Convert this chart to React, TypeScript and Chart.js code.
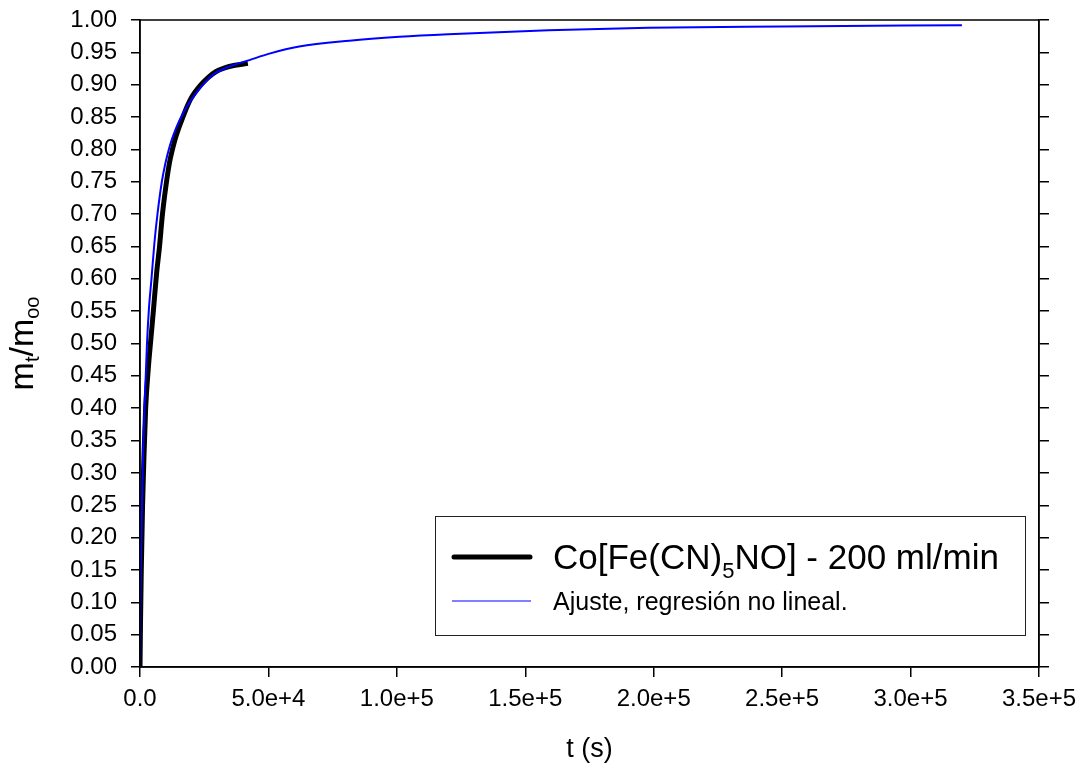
import React, { useEffect, useRef } from "react";
import { Chart, registerables } from "chart.js";

Chart.register(...registerables);

const FONT = "'Liberation Sans', Arial, Helvetica, sans-serif";

// Measured uptake curve, Co[Fe(CN)5NO] at 200 ml/min
const tMeasured = [0, 200, 500, 1000, 1500, 2200, 3200, 4300, 5300, 6500, 7600, 8750, 10500, 11500, 12500, 13600, 15000, 16700, 18300, 20000, 23500, 26500, 29500, 33000, 37000, 42000];
const yMeasured = [0, 0.07, 0.15, 0.25, 0.32, 0.4, 0.46, 0.51, 0.555, 0.61, 0.65, 0.7, 0.755, 0.78, 0.798, 0.815, 0.832, 0.85, 0.866, 0.88, 0.899, 0.911, 0.92, 0.926, 0.93, 0.933];

// Non-linear regression fit
const tFit = [0, 150, 400, 800, 1200, 1750, 2720, 3500, 4470, 5600, 6800, 8500, 9700, 10700, 11800, 13000, 15400, 18500, 21900, 25000, 28300, 34800, 42600, 50400, 62000, 81500, 101000, 120000, 159000, 198000, 250000, 320000];
const yFit = [0, 0.09, 0.17, 0.26, 0.33, 0.4, 0.5, 0.555, 0.6, 0.655, 0.7, 0.75, 0.775, 0.792, 0.808, 0.822, 0.845, 0.868, 0.887, 0.902, 0.915, 0.928, 0.938, 0.948, 0.959, 0.968, 0.974, 0.978, 0.984, 0.988, 0.99, 0.992];

const X_MIN = 0;
const X_MAX = 350000;
const X_STEP = 50000;
const Y_MIN = 0;
const Y_MAX = 1;
const Y_STEP = 0.05;

const legendMeasured = ["Co[Fe(CN)", "5", "NO] - 200 ml/min"];
const legendFit = "Ajuste, regresión no lineal.";
const yTitleParts: [string, boolean][] = [["m", false], ["t", true], ["/m", false], ["oo", true]];
const xTitle = "t (s)";

const fmtX = (v: number) => {
  if (v === 0) return "0.0";
  const e = Math.floor(Math.log10(v) + 1e-9);
  const m = v / Math.pow(10, e);
  return m.toFixed(1) + "e+" + e;
};

const decorPlugin = {
  id: "decor",
  afterDraw(chart: any) {
    const { ctx, chartArea } = chart;
    const { left, top, right, bottom } = chartArea;
    ctx.save();
    // plot frame
    ctx.strokeStyle = "#000";
    ctx.lineWidth = 1.5;
    ctx.strokeRect(left, top, right - left, bottom - top);

    // y-axis title with subscripts
    const mainF = `34px ${FONT}`;
    const subF = `20px ${FONT}`;
    let total = 0;
    for (const [t, sub] of yTitleParts) {
      ctx.font = sub ? subF : mainF;
      total += ctx.measureText(t).width;
    }
    ctx.save();
    ctx.translate(32.5, (top + bottom) / 2);
    ctx.rotate(-Math.PI / 2);
    ctx.fillStyle = "#000";
    ctx.textBaseline = "alphabetic";
    ctx.textAlign = "left";
    let x = -total / 2;
    for (const [t, sub] of yTitleParts) {
      ctx.font = sub ? subF : mainF;
      ctx.fillText(t, x, sub ? 6 : 0);
      x += ctx.measureText(t).width;
    }
    ctx.restore();

    // legend
    const bx = 435, by = 516, bw = 590, bh = 119;
    ctx.fillStyle = "#fff";
    ctx.fillRect(bx, by, bw, bh);
    ctx.strokeStyle = "#222";
    ctx.lineWidth = 1;
    ctx.strokeRect(bx + 0.5, by + 0.5, bw, bh);

    ctx.strokeStyle = "#000";
    ctx.lineWidth = 5;
    ctx.lineCap = "round";
    ctx.beginPath();
    ctx.moveTo(454, 557);
    ctx.lineTo(530, 557);
    ctx.stroke();

    ctx.strokeStyle = "#0000ff";
    ctx.lineWidth = 1.2;
    ctx.lineCap = "butt";
    ctx.beginPath();
    ctx.moveTo(452, 601);
    ctx.lineTo(531, 601);
    ctx.stroke();

    ctx.fillStyle = "#000";
    ctx.textAlign = "left";
    ctx.textBaseline = "alphabetic";
    let lx = 553;
    ctx.font = `35px ${FONT}`;
    ctx.fillText(legendMeasured[0], lx, 569);
    lx += ctx.measureText(legendMeasured[0]).width;
    ctx.font = `22px ${FONT}`;
    ctx.fillText(legendMeasured[1], lx, 578);
    lx += ctx.measureText(legendMeasured[1]).width;
    ctx.font = `35px ${FONT}`;
    ctx.fillText(legendMeasured[2], lx, 569);

    ctx.font = `25px ${FONT}`;
    ctx.fillText(legendFit, 553, 610);
    ctx.restore();
  },
};

export default function App() {
  const ref = useRef<HTMLCanvasElement | null>(null);

  useEffect(() => {
    if (!ref.current) return;
    const tickFont = { size: 24, family: FONT };
    const axisLine = { display: true, color: "#000", width: 1.5 };
    const fitVertical = (w: number) => (s: any) => {
      s.width = w;
      s.paddingTop = 0;
      s.paddingBottom = 0;
    };
    const chart = new Chart(ref.current, {
      type: "line",
      data: {
        datasets: [
          {
            label: "fit",
            data: tFit.map((t, i) => ({ x: t, y: yFit[i] })),
            borderColor: "#0000ff",
            borderWidth: 2,
            pointRadius: 0,
            fill: false,
            cubicInterpolationMode: "monotone",
            order: 0,
          },
          {
            label: "measured",
            data: tMeasured.map((t, i) => ({ x: t, y: yMeasured[i] })),
            borderColor: "#000",
            borderWidth: 5,
            pointRadius: 0,
            fill: false,
            cubicInterpolationMode: "monotone",
            order: 1,
          },
        ],
      },
      options: {
        responsive: false,
        animation: false,
        events: [],
        layout: { padding: { top: 20, left: 0, right: 0, bottom: 0 } },
        plugins: { legend: { display: false }, tooltip: { enabled: false } },
        scales: {
          x: {
            type: "linear",
            position: "bottom",
            min: X_MIN,
            max: X_MAX,
            ticks: { stepSize: X_STEP, callback: (v: any) => fmtX(Number(v)), font: tickFont, color: "#000", padding: 8, maxRotation: 0, autoSkip: false },
            grid: { drawOnChartArea: false, drawTicks: true, tickLength: 10, color: "#000", lineWidth: 1.5 },
            border: axisLine,
            title: { display: true, text: xTitle, font: { size: 27, family: FONT }, color: "#000", padding: { top: 0, bottom: 9 } },
            afterFit: (s: any) => { s.height = 108; },
          },
          y: {
            type: "linear",
            position: "left",
            min: Y_MIN,
            max: Y_MAX,
            ticks: { stepSize: Y_STEP, callback: (v: any) => Number(v).toFixed(2), font: tickFont, color: "#000", padding: 14, autoSkip: false },
            grid: { drawOnChartArea: false, drawTicks: true, tickLength: 9, color: "#000", lineWidth: 1.5 },
            border: axisLine,
            afterFit: fitVertical(140),
          },
          y2: {
            type: "linear",
            position: "right",
            min: Y_MIN,
            max: Y_MAX,
            ticks: { stepSize: Y_STEP, display: false },
            grid: { drawOnChartArea: false, drawTicks: true, tickLength: 10, color: "#000", lineWidth: 1.5 },
            border: axisLine,
            afterFit: fitVertical(44),
          },
        },
      },
      plugins: [decorPlugin],
    } as any);
    return () => chart.destroy();
  }, []);

  return (
    <div style={{ position: "absolute", left: 0, top: 0, width: 1084, height: 775, background: "#fff" }}>
      <canvas ref={ref} width={1084} height={775} />
    </div>
  );
}
